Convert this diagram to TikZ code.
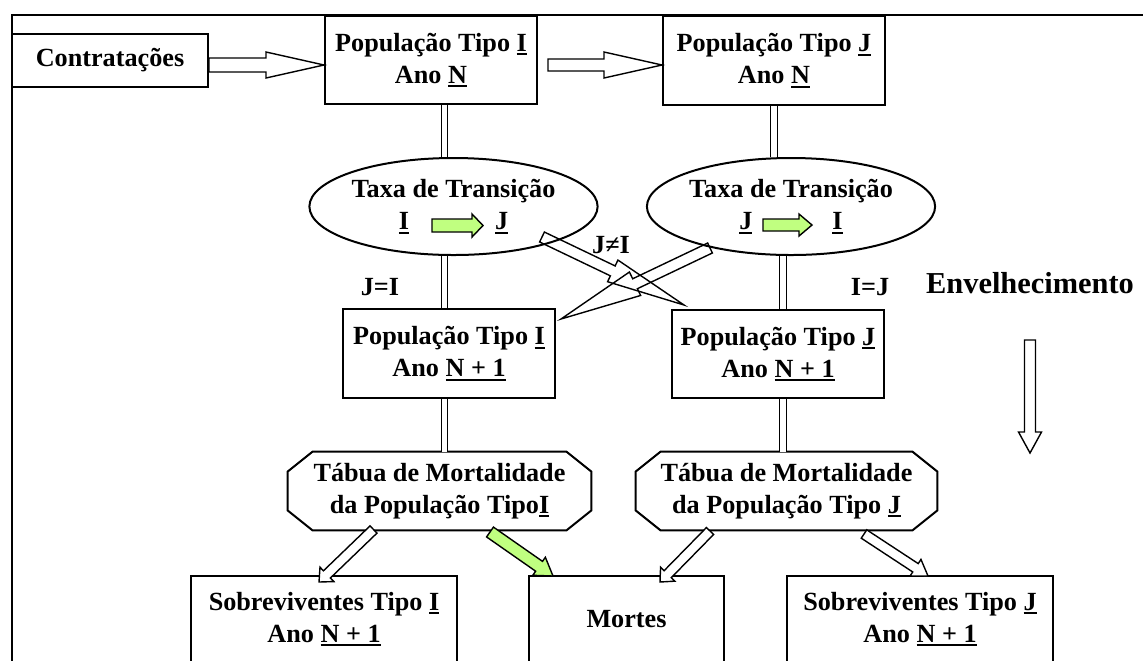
\documentclass[tikz,border=0pt]{standalone}
\usepackage{fontspec}
\setmainfont{Liberation Serif}
\usetikzlibrary{calc,shapes.geometric}
\definecolor{arrgreen}{RGB}{192,255,128}
\newcommand{\undl}[1]{\leavevmode\setbox0\hbox{#1}\rlap{\rule[-2pt]{\wd0}{1pt}}\box0}
% [style]{tail}{tip}{shaft half width}{head half width}{head length}
\newcommand{\barr}[6][]{%
  \coordinate (bh) at ($#3!#6!#2$);
  \draw[#1] ($#2!#4!90:#3$) -- ($(bh)!#4!90:#3$) -- ($(bh)!#5!90:#3$) -- #3
    -- ($(bh)!#5!-90:#3$) -- ($(bh)!#4!-90:#3$) -- ($#2!#4!-90:#3$) -- cycle;
}
\tikzset{
  txt/.style={inner sep=0pt, align=center, font=\fontsize{13.1}{16}\selectfont\bfseries},
  box/.style={txt, draw, line width=1pt},
  ell/.style={box, ellipse},
  dbl/.style={double, line width=0.6pt, double distance=2.6pt},
  warr/.style={draw, line width=0.7pt, fill=white, line join=miter},
  garr/.style={draw, line width=0.7pt, fill=arrgreen},
  xarr/.style={draw, line width=0.7pt},
  tabline/.style={line width=1pt},
}
\begin{document}
\begin{tikzpicture}[x=0.5pt,y=-0.5pt]
\clip (0,0) rectangle (1143,660);
\draw[line width=1.4pt] (12,700) -- (12,15) -- (1180,15);

% nodes
\node[box, minimum width=98pt, minimum height=26.5pt] (contr) at (110,60.5) {Contratações};
\node[box, minimum width=106pt, minimum height=44pt] (popIN) at (431,60) {População Tipo \undl{I}\\Ano \undl{N}};
\node[box, minimum width=111pt, minimum height=44.5pt] (popJN) at (774,60.5) {População Tipo \undl{J}\\Ano \undl{N}};
\node[ell, minimum width=128.5pt, minimum height=48.5pt] (ellI) at (453.5,206.5) {Taxa de Transição\\\undl{I}\hspace{43pt}\undl{J}};
\node[ell, minimum width=128pt, minimum height=48.5pt] (ellJ) at (791,206.5) {Taxa de Transição\\\undl{J}\hspace{40pt}\undl{I}};
\node[box, minimum width=106pt, minimum height=44.5pt] (popI1) at (449,353.5) {População Tipo \undl{I}\\Ano \undl{N + 1}};
\node[box, minimum width=106pt, minimum height=44pt] (popJ1) at (778,354) {População Tipo \undl{J}\\Ano \undl{N + 1}};
\node[txt, minimum width=151.5pt, minimum height=39pt] (tabI) at (439.5,491) {Tábua de Mortalidade\\da População Tipo\undl{I}};
\node[txt, minimum width=150.5pt, minimum height=39pt] (tabJ) at (786.5,491) {Tábua de Mortalidade\\da População Tipo \undl{J}};
\node[box, minimum width=133pt, minimum height=43pt] (sobI) at (324,619) {Sobreviventes Tipo \undl{I}\\Ano \undl{N + 1}};
\node[box, minimum width=97.5pt, minimum height=43pt] (mortes) at (626.5,619) {Mortes};
\node[box, minimum width=133pt, minimum height=43pt] (sobJ) at (920,619) {Sobreviventes Tipo \undl{J}\\Ano \undl{N + 1}};
\node[txt] (lJI) at (380,287) {J=I};
\node[txt] (lIJ) at (870,287) {I=J};
\node[txt] (lneq) at (611,245) {J≠I};
\node[txt, font=\fontsize{15.2}{17}\selectfont\bfseries] (env) at (1030,283) {Envelhecimento};

% chamfered outlines
\foreach \n in {tabI,tabJ}{
\draw[tabline] ([xshift=12.5pt]\n.north west) -- ([xshift=-12.5pt]\n.north east) -- ([yshift=-10pt]\n.north east)
  -- ([yshift=10pt]\n.south east) -- ([xshift=-12.5pt]\n.south east) -- ([xshift=12.5pt]\n.south west)
  -- ([yshift=10pt]\n.south west) -- ([yshift=-10pt]\n.north west) -- cycle;
}

% vertical connectors
\coordinate (colI) at (444.5,0);
\coordinate (colJ) at (783,0);
\draw[dbl] (colI |- popIN.south) -- (colI |- ellI.north);
\draw[dbl] (popJN.south) -- (popJN.south |- ellJ.north);
\draw[dbl] (colI |- ellI.south) -- (colI |- popI1.north);
\draw[dbl] (colJ |- ellJ.south) -- (colJ |- popJ1.north);
\draw[dbl] (colI |- popI1.south) -- (colI |- tabI.north);
\draw[dbl] (colJ |- popJ1.south) -- (colJ |- tabJ.north);

% block arrows top row
\coordinate (a1t) at ([yshift=-2.25pt]contr.east);
\coordinate (a1h) at ([yshift=-2.5pt]popIN.west);
\barr[warr]{(a1t)}{(a1h)}{3.5pt}{6.5pt}{29pt}
\coordinate (a2t) at ([xshift=5pt,yshift=-2.5pt]popIN.east);
\coordinate (a2h) at ([yshift=-2.25pt]popJN.west);
\barr[warr]{(a2t)}{(a2h)}{3pt}{6.5pt}{29pt}

% green arrows inside ellipses
\coordinate (g1t) at ($(ellI.center)+(-21.5,19)$);
\coordinate (g1h) at ($(ellI.center)+(29.5,19)$);
\barr[garr]{(g1t)}{(g1h)}{3.25pt}{5.75pt}{5.5pt}
\coordinate (g2t) at ($(ellJ.center)+(-28,18.5)$);
\coordinate (g2h) at ($(ellJ.center)+(21,18.5)$);
\barr[garr]{(g2t)}{(g2h)}{3pt}{5.5pt}{6.5pt}

% crossing arrows
\coordinate (xIt) at (542,237);
\coordinate (xIh) at (684,305);
\barr[xarr]{(xIt)}{(xIh)}{2.75pt}{6pt}{39.5pt}
\coordinate (xJt) at (710,248);
\coordinate (xJh) at (561,319);
\barr[xarr]{(xJt)}{(xJh)}{2.75pt}{6.5pt}{41pt}

% ageing arrow
\coordinate (envA) at (1030,340);
\coordinate (envB) at (1030,453);
\barr[warr]{(envA)}{(envB)}{2.75pt}{5.75pt}{10.5pt}

% arrows from mortality tables
\coordinate (t1t) at (373.5,529.5);
\coordinate (t1h) at (319,582);
\barr[warr]{(t1t)}{(t1h)}{2.5pt}{5pt}{5.5pt}
\coordinate (t2t) at (490,532);
\coordinate (t2h) at (553,576);
\barr[garr]{(t2t)}{(t2h)}{3pt}{5.5pt}{8.5pt}
\coordinate (t3t) at (710,531);
\coordinate (t3h) at (660,582);
\barr[warr]{(t3t)}{(t3h)}{2.5pt}{5pt}{5.5pt}
\coordinate (t4t) at (864,534);
\coordinate (t4h) at (928,576);
\barr[warr]{(t4t)}{(t4h)}{2.5pt}{5pt}{7.5pt}
\end{tikzpicture}
\end{document}
